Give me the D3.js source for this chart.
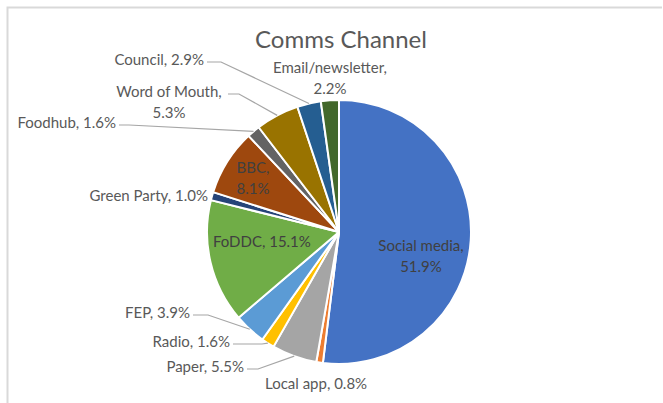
<!DOCTYPE html>
<html>
<head>
<meta charset="utf-8">
<script src="https://cdn.jsdelivr.net/npm/d3@7"></script>
<style>
  body { margin: 0; background: #fff; }
  svg text { font-family: Lato, "Open Sans", sans-serif; }
</style>
</head>
<body>
<div id="chart"></div>
<script>
// data
const categories = ['Social media', 'Local app', 'Paper', 'Radio', 'FEP', 'FoDDC',
  'Green Party', 'BBC', 'Foodhub', 'Word of Mouth', 'Council', 'Email/newsletter'];
const values = [51.9, 0.8, 5.5, 1.6, 3.9, 15.1, 1.0, 8.1, 1.6, 5.3, 2.9, 2.2];
const colors = ['#4472C4', '#ED7D31', '#A5A5A5', '#FFC000', '#5B9BD5', '#70AD47',
  '#264478', '#9E480E', '#636363', '#997300', '#255E91', '#43682B'];
const title = 'Comms Channel';

// label placement (Excel style, hand-positioned)
// x,y = text anchor/baseline; lines = how text splits; leader = draw a leader line
const labelLayout = {
  'Social media':     {x: 421, y: 251, anchor: 'middle', split: true,  inside: true},
  'Local app':        {x: 265, y: 389, anchor: 'start'},
  'Paper':            {x: 244, y: 372, anchor: 'end', leader: 11},
  'Radio':            {x: 230, y: 347, anchor: 'end', leader: 29},
  'FEP':              {x: 190, y: 318, anchor: 'end', leader: 15},
  'FoDDC':            {x: 213, y: 247, anchor: 'start', inside: true},
  'Green Party':      {x: 208, y: 201, anchor: 'end'},
  'BBC':              {x: 253, y: 173, anchor: 'middle', split: true, inside: true},
  'Foodhub':          {x: 116, y: 128, anchor: 'end', leader: 10},
  'Word of Mouth':    {x: 169, y: 97,  anchor: 'middle', split: true, leader: 11, lx: 228},
  'Council':          {x: 204, y: 65,  anchor: 'end', leader: 14},
  'Email/newsletter': {x: 330, y: 73,  anchor: 'middle', split: true}
};

const width = 663;
const height = 403;
const cx = 339, cy = 232, radius = 132;
const lineH = 21;

const svg = d3.select('#chart')
  .append('svg')
  .attr('width', width)
  .attr('height', height);

// chart area frame (only top and left edges visible)
svg.append('path')
  .attr('d', 'M7.5,' + height + 'V7.5H662')
  .attr('fill', 'none')
  .attr('stroke', '#D9D9D9')
  .attr('stroke-width', 2);

svg.append('text')
  .attr('x', cx + 2)
  .attr('y', 48)
  .attr('text-anchor', 'middle')
  .attr('font-size', 24)
  .attr('fill', '#595959')
  .text(title);

const data = categories.map((c, i) => ({name: c, value: values[i], color: colors[i]}));

const pie = d3.pie()
  .value(d => d.value)
  .sort(null);

const arc = d3.arc()
  .innerRadius(0)
  .outerRadius(radius);

const edgeArc = d3.arc()
  .innerRadius(radius)
  .outerRadius(radius);

const arcs = pie(data);

const g = svg.append('g')
  .attr('transform', 'translate(' + cx + ',' + cy + ')');

g.selectAll('path')
  .data(arcs)
  .enter()
  .append('path')
  .attr('d', arc)
  .attr('fill', d => d.data.color)
  .attr('stroke', '#fff')
  .attr('stroke-width', 2)
  .attr('stroke-linejoin', 'round');

// leader lines
arcs.forEach(a => {
  const L = labelLayout[a.data.name];
  if (!L.leader) return;
  const p = edgeArc.centroid(a);
  const px = cx + p[0], py = cy + p[1];
  const sx = (L.lx !== undefined ? L.lx : L.x + 3);
  const sy = L.y - 3;
  const ex = sx + L.leader;
  svg.append('polyline')
    .attr('points', [[sx, sy], [ex, sy], [px, py]].map(q => q.join(',')).join(' '))
    .attr('fill', 'none')
    .attr('stroke', '#A6A6A6')
    .attr('stroke-width', 1.2);
});

// labels
arcs.forEach(a => {
  const L = labelLayout[a.data.name];
  const pct = d3.format('.1f')(a.data.value) + '%';
  const lines = L.split ? [a.data.name + ',', pct] : [a.data.name + ', ' + pct];
  const t = svg.append('text')
    .attr('text-anchor', L.anchor)
    .attr('font-size', 15)
    .attr('fill', L.inside ? '#404040' : '#595959');
  lines.forEach((s, i) => {
    t.append('tspan')
      .attr('x', L.x)
      .attr('y', L.y + i * lineH)
      .text(s);
  });
});
</script>
</body>
</html>
